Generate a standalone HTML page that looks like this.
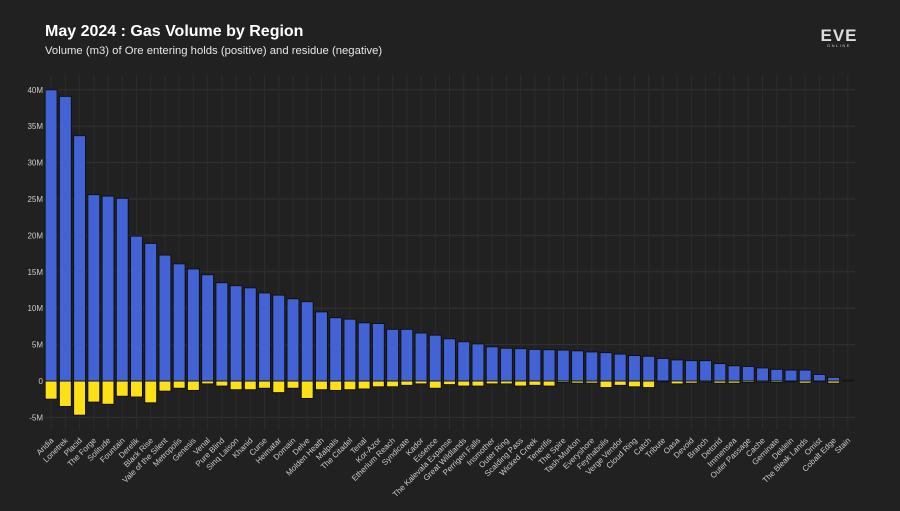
<!DOCTYPE html>
<html><head><meta charset="utf-8"><style>
body{margin:0;background:#212121;}
svg text{font-family:"Liberation Sans",sans-serif;}
</style></head><body>
<svg id="c" width="900" height="506" xmlns="http://www.w3.org/2000/svg">
<rect width="900" height="506" fill="#212121"/>
<text x="45" y="36" fill="#fff" font-size="16" font-weight="bold">May 2024 : Gas Volume by Region</text>
<text x="45" y="54" fill="#e6e6e6" font-size="11.3">Volume (m3) of Ore entering holds (positive) and residue (negative)</text>
<g>
<text x="839" y="41" fill="#ddd" font-size="17" font-weight="bold" text-anchor="middle" letter-spacing="1">EVE</text>
<text x="839" y="47" fill="#ccc" font-size="4" text-anchor="middle" letter-spacing="1.5">ONLINE</text>
</g>
<g id="grid"></g><g id="bars"></g><g id="labels"></g>
</svg>
<script>
const categories=["Aridia","Lonetrek","Placid","The Forge","Solitude","Fountain","Derelik","Black Rise","Vale of the Silent","Metropolis","Genesis","Venal","Pure Blind","Sinq Laison","Khanid","Curse","Heimatar","Domain","Delve","Molden Heath","Malpais","The Citadel","Tenal","Kor-Azor","Etherium Reach","Syndicate","Kador","Essence","The Kalevala Expanse","Great Wildlands","Perrigen Falls","Insmother","Outer Ring","Scalding Pass","Wicked Creek","Tenerifis","The Spire","Tash-Murkon","Everyshore","Feythabolis","Verge Vendor","Cloud Ring","Catch","Tribute","Oasa","Devoid","Branch","Detorid","Immensea","Outer Passage","Cache","Geminate","Deklein","The Bleak Lands","Omist","Cobalt Edge","Stain"];
const positive=[40,39.1,33.7,25.6,25.4,25.1,19.9,18.9,17.3,16.1,15.4,14.6,13.5,13.1,12.8,12.1,11.8,11.3,10.9,9.5,8.7,8.5,8.0,7.9,7.1,7.1,6.6,6.3,5.8,5.4,5.1,4.7,4.5,4.45,4.35,4.3,4.25,4.15,4.0,3.9,3.7,3.5,3.4,3.1,2.9,2.8,2.8,2.4,2.1,2.0,1.8,1.6,1.5,1.5,0.9,0.5,0.05];
const negative=[-2.5,-3.5,-4.7,-2.9,-3.2,-2.1,-2.2,-3.0,-1.4,-1.0,-1.3,-0.4,-0.7,-1.2,-1.2,-1.0,-1.6,-1.0,-2.4,-1.2,-1.3,-1.2,-1.1,-0.8,-0.8,-0.6,-0.4,-1.0,-0.5,-0.7,-0.7,-0.4,-0.4,-0.7,-0.6,-0.7,-0.2,-0.3,-0.3,-0.9,-0.6,-0.8,-0.9,-0.1,-0.4,-0.3,-0.15,-0.3,-0.3,-0.2,-0.15,-0.2,-0.1,-0.3,-0.05,-0.3,0];
const yTicks=[-5,0,5,10,15,20,25,30,35,40];
const yTickLabels=["-5M","0","5M","10M","15M","20M","25M","30M","35M","40M"];
const NS="http://www.w3.org/2000/svg";
const L=44,R=855,Y0=381,PX=7.28,TOP=75,BOT=430;
const band=(R-L)/categories.length;
const x=i=>L+band*(i+0.5);
const y=v=>Y0-v*PX;
function mk(t,a,p){const e=document.createElementNS(NS,t);for(const k in a)e.setAttribute(k,a[k]);p.appendChild(e);return e;}
const g=document.getElementById('grid'),b=document.getElementById('bars'),lb=document.getElementById('labels');
yTicks.forEach((t,i)=>{
 const ln=mk('line',{x1:L,x2:R,y1:y(t),y2:y(t),stroke:'#333',"stroke-width":1},g);
 
 
 const tx=mk('text',{x:43,y:y(t)+3,fill:'#ccc',"font-size":8,"text-anchor":"end"},g);
 tx.textContent=yTickLabels[i];
 
 
});
categories.forEach((c,i)=>{
 const vl=mk('line',{x1:x(i),x2:x(i),y1:TOP,y2:BOT,stroke:'#2c2c2c',"stroke-width":1},g);
 
 
 const w=band*0.84;
 const p=mk('rect',{x:x(i)-w/2,y:y(positive[i]),width:w,height:Math.max(0,positive[i]*PX),fill:'#4262d6',stroke:'#111',"stroke-width":1},b);
 
 
 const n=mk('rect',{x:x(i)-w/2,y:Y0,width:w,height:Math.max(0,-negative[i]*PX),fill:'#fde016',stroke:'#111',"stroke-width":1},b);
 
 
 const t=mk('text',{x:0,y:0,fill:'#ccc',"font-size":8,"text-anchor":"end",transform:`translate(${x(i)+3},${441}) rotate(-45)`},lb);
 t.textContent=c;
 
 
});
</script>
</body></html>
